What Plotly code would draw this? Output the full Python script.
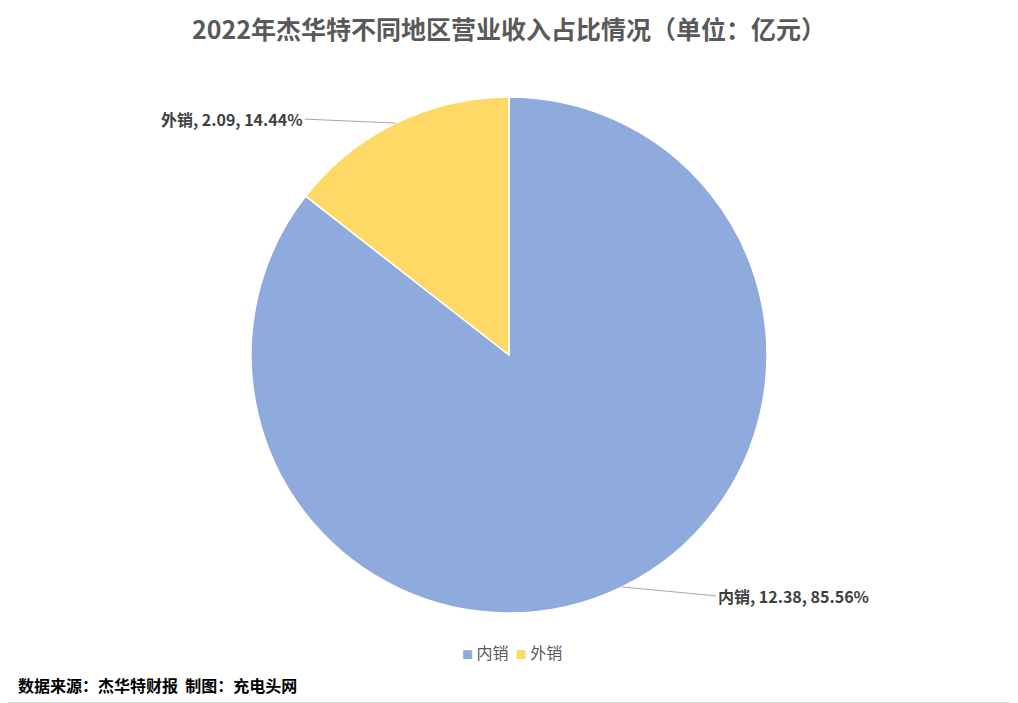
import math
import plotly.graph_objects as go

# data
regions = ["内销", "外销"]
revenue = [12.38, 2.09]  # 亿元
colors = ["#8FAADC", "#FFD966"]

title = "2022年杰华特不同地区营业收入占比情况（单位：亿元）"
source = "数据来源：杰华特财报  制图：充电头网"

# page body adds an 8px margin, so shift everything up/left by that
OFF = 8
W, H = 1018 - OFF, 703 - OFF
cx, cy, r = 509 - OFF, 355 - OFF, 258  # pie centre / radius in px

fig = go.Figure()
fig.add_trace(go.Pie(
    labels=regions, values=revenue,
    marker=dict(colors=colors, line=dict(color="white", width=1.5)),
    sort=False, direction="clockwise", rotation=0,
    textinfo="none", hoverinfo="label+value+percent",
    domain=dict(x=[(cx - r) / W, (cx + r) / W], y=[1 - (cy + r) / H, 1 - (cy - r) / H]),
    showlegend=False,
))

# outside labels with leader lines from slice midpoints
total = sum(revenue)
start = 0.0
offsets = {"内销": (94, 9, "left"), "外销": (-91, -4, "right")}
for name, v in zip(regions, revenue):
    frac = v / total
    mid = (start + frac / 2) * 2 * math.pi
    start += frac
    px = cx + r * math.sin(mid)
    py = cy - r * math.cos(mid)
    ax, ay, anchor = offsets[name]
    fig.add_annotation(
        x=px / W, y=1 - py / H, xref="paper", yref="paper",
        text=f"<b>{name}, {v:.2f}, {frac * 100:.2f}%</b>",
        showarrow=True, arrowhead=0, arrowwidth=1, arrowcolor="#A6A6A6",
        ax=ax, ay=ay, xanchor=anchor, yanchor="middle",
        font=dict(size=16, color="#404040"),
    )

# legend drawn as text, compact like the original
legend_text = "  ".join(
    f"<span style='color:{c};font-size:11px'>■</span> {n}" for n, c in zip(regions, colors)
)
fig.add_annotation(
    x=(512 - OFF) / W, y=1 - (652 - OFF) / H, xref="paper", yref="paper",
    text=legend_text, showarrow=False, xanchor="center", yanchor="middle",
    font=dict(size=16, color="#595959"),
)

fig.add_annotation(
    x=(16 - OFF) / W, y=1 - (685 - OFF) / H, xref="paper", yref="paper",
    text=f"<b>{source}</b>", showarrow=False, xanchor="left", yanchor="middle",
    font=dict(size=16, color="black"),
)

# title as an annotation so it is not clipped at the top edge
fig.add_annotation(
    x=(509 - OFF) / W, y=1 - (28 - OFF) / H, xref="paper", yref="paper",
    text=f"<b>{title}</b>", showarrow=False, xanchor="center", yanchor="middle",
    font=dict(size=25, color="#595959"),
)

# chart border (right / bottom; top / left fall at the page edge)
fig.add_shape(type="line", xref="paper", yref="paper", x0=1, x1=1, y0=0, y1=1,
              line=dict(color="#D9D9D9", width=2))
fig.add_shape(type="line", xref="paper", yref="paper", x0=0, x1=1, y0=0, y1=0,
              line=dict(color="#D9D9D9", width=2))

fig.update_layout(
    width=W, height=H,
    margin=dict(l=0, r=0, t=0, b=0),
    paper_bgcolor="white", plot_bgcolor="white",
    font=dict(family="Noto Sans CJK SC, sans-serif"),
    showlegend=False,
)

fig.write_html("out.html")
